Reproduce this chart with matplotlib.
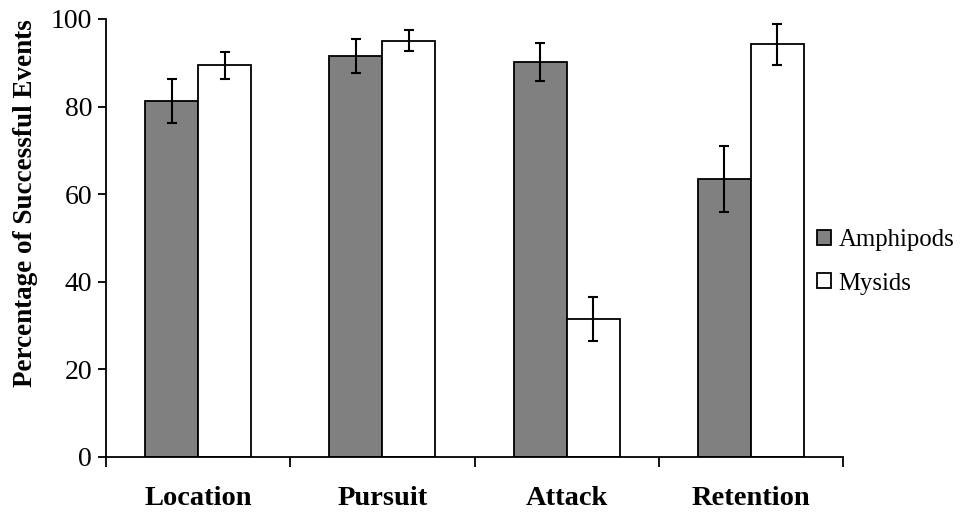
import matplotlib
matplotlib.use("Agg")
import matplotlib.pyplot as plt
import numpy as np

categories = ["Location", "Pursuit", "Attack", "Retention"]
amphipods = [81.3, 91.5, 90.2, 63.5]
amphipods_err = [5.0, 3.9, 4.4, 7.6]
mysids = [89.4, 95.0, 31.5, 94.2]
mysids_err = [3.1, 2.4, 5.1, 4.7]
yticks = [0, 20, 40, 60, 80, 100]

plt.rcParams['font.family'] = ['Liberation Serif', 'DejaVu Serif']

fig = plt.figure(figsize=(9.6, 5.14), dpi=100)
ax = fig.add_axes([106/960, 1-457/514, (843-106)/960, (457-19)/514])

x = np.arange(len(categories))
w = 0.288
ekw = dict(elinewidth=1.5, capthick=1.5, ecolor='black')
ax.bar(x - w/2, amphipods, w, color='#808080', edgecolor='black', linewidth=1.3,
       yerr=amphipods_err, capsize=3.8, error_kw=ekw, label='Amphipods', zorder=2)
ax.bar(x + w/2, mysids, w, color='white', edgecolor='black', linewidth=1.3,
       yerr=mysids_err, capsize=3.8, error_kw=ekw, label='Mysids', zorder=2)

ax.set_xlim(-0.5, len(categories) - 0.5)
ax.set_ylim(0, 100)
ax.set_yticks(yticks)
ax.set_yticklabels([str(v) for v in yticks], fontsize=20)
ax.set_xticks(x)
ax.set_xticklabels(categories, fontsize=20.5, fontweight='bold')
ax.tick_params(axis='x', which='major', length=0, pad=21)
ax.set_xticks(np.arange(-0.5, len(categories)), minor=True)
ax.tick_params(axis='x', which='minor', length=7, width=1.3, direction='out')
ax.tick_params(axis='y', length=6, width=1.3, direction='out', pad=4)

for s in ['top', 'right']:
    ax.spines[s].set_visible(False)
for s in ['left', 'bottom']:
    ax.spines[s].set_linewidth(1.3)

ax.set_ylabel('Percentage of Successful Events', fontsize=19.5, fontweight='bold')
ax.yaxis.set_label_coords(-0.092, 0.58)

leg = ax.legend(loc='center left', bbox_to_anchor=(805/960, 1-262/514),
                bbox_transform=fig.transFigure, frameon=False, fontsize=17.8,
                handlelength=0.55, handleheight=0.55, handletextpad=0.3,
                labelspacing=0.85, borderpad=0)

fig.savefig('out.png', dpi=100)
